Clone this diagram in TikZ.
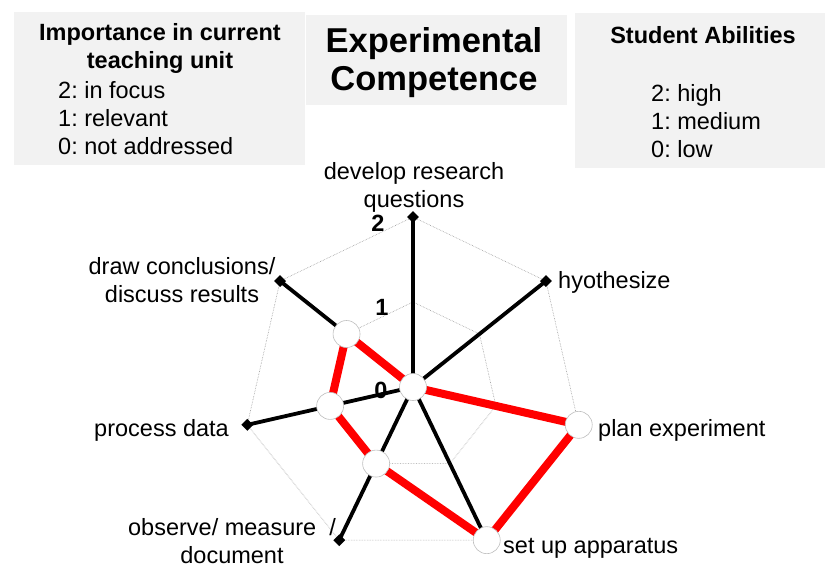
\documentclass[tikz,border=0pt]{standalone}
\usepackage{fontspec}
\setmainfont{Liberation Sans}
\usetikzlibrary{positioning,shapes.geometric,backgrounds}
\frenchspacing

\tikzset{
  legbox/.style={fill=black!5},
  txt/.style={font=\fontsize{23.5}{28}\selectfont, inner sep=0pt},
  hdr/.style={font=\bfseries\fontsize{23.5}{28}\selectfont, inner sep=0pt, align=center},
  grid/.style={densely dotted, gray!80, line width=0.6pt},
  spoke/.style={line width=3.8pt},
  ability/.style={draw=red, line width=8pt, line join=round},
  dia/.style={diamond, fill=black, inner sep=0pt, minimum size=12pt},
  pt/.style={circle, fill=white, draw=gray!50, line width=0.6pt, minimum size=27pt, inner sep=0pt}
}

\begin{document}
\begin{tikzpicture}[x=1pt,y=1pt]
  \useasboundingbox (0,0) rectangle (825,-567);
  % legend boxes and title
  \fill[legbox] (14,-12) rectangle (305,-165);
  \fill[legbox] (306,-15) rectangle (567,-105);
  \fill[legbox] (575,-13) rectangle (825,-168);
  \node[hdr, anchor=north] (imp) at (160,-23) {Importance in current\\teaching unit};
  \node[txt, align=left, anchor=north west] (impkey) at (58,-81) {2: in focus\\1: relevant\\0: not addressed};
  \node[hdr, font=\bfseries\fontsize{34.5}{38}\selectfont, anchor=north] (title) at (434,-27) {Experimental\\Competence};
  \node[hdr, anchor=north] (abil) at (703,-26) {Student Abilities};
  \node[txt, align=left, anchor=north west] (abilkey) at (651,-84) {2: high\\1: medium\\0: low};

  % the radar chart
  \begin{scope}[shift={(413,-387)}]
    \coordinate (c) at (0,0);
    % outer ends (value 2)
    \node[dia] (q2) at (90:170) {};
    \node[dia] (h2) at (38.57:170) {};
    \node[dia] (o2) at (-115.71:170) {};
    \node[dia] (d2) at (-167.14:170) {};
    \node[dia] (r2) at (141.43:170) {};
    % importance points
    \node[pt] (q0) at (0,0) {};
    \node[pt] (p2) at (-12.86:170) {};
    \node[pt] (s2) at (-64.29:170) {};
    \node[pt] (o1) at (-115.71:85) {};
    \node[pt] (d1) at (-167.14:85) {};
    \node[pt] (r1) at (141.43:85) {};
    \begin{pgfonlayer}{background}
      \draw[grid] (90:85) \foreach \a in {1,...,6} {-- (90-\a*360/7:85)} -- cycle;
      \draw[grid] (90:170) \foreach \a in {1,...,6} {-- (90-\a*360/7:170)} -- cycle;
      \node[hdr] (v2) at (-35,164) {2};
      \node[hdr] (v1) at (-31,80) {1};
      \node[hdr] (v0) at (-32,-3) {0};
      \foreach \n in {q2,h2,p2,s2,o2,d2,r2}
        \draw[spoke] (c) -- (\n.center);
      \draw[ability] (q0.center) -- (p2.center) -- (s2.center) -- (o1.center)
        -- (d1.center) -- (r1.center) -- cycle;
    \end{pgfonlayer}
  \end{scope}

  % axis labels
  \node[txt, align=center, anchor=north] (lq) at (414,-162) {develop research\\questions};
  \node[txt, anchor=base west] (lh) at (558,-288) {hyothesize};
  \node[txt, anchor=base west] (lp) at (598,-436) {plan experiment};
  \node[txt, anchor=base west] (ls) at (503,-553) {set up apparatus};
  \node[txt, align=center, anchor=north] (lo) at (232,-518) {observe/ measure \ /\\document};
  \node[txt, anchor=base east] (ld) at (229,-436) {process data};
  \node[txt, align=center, anchor=north] (lr) at (182,-257) {draw conclusions/\\discuss results};
\end{tikzpicture}
\end{document}
